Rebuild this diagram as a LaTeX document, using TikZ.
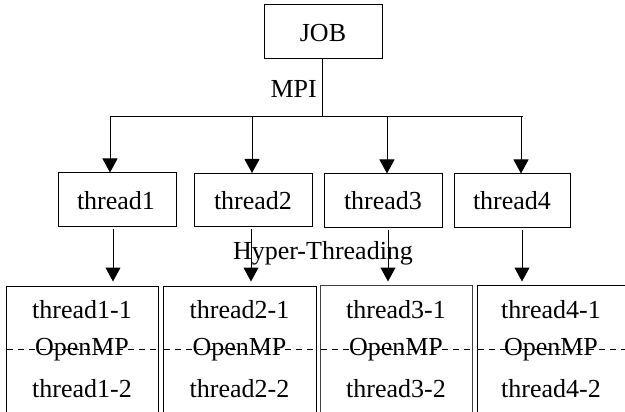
\documentclass[tikz,border=0pt]{standalone}
\usepackage{fontspec}
\setmainfont{Liberation Serif}
\usetikzlibrary{arrows.meta}
\begin{document}
\begin{tikzpicture}[x=1pt,y=-1pt,
  every node/.style={font=\fontsize{26}{30}\selectfont},
  box/.style={draw, line width=1pt, rectangle, inner sep=0pt},
  lbl/.style={inner sep=0pt, anchor=base},
  wire/.style={line width=1pt},
  arr/.style={line width=1pt, -{Triangle[width=15pt,length=14pt]}},
  sep/.style={line width=0.8pt, dash pattern=on 6pt off 5pt}]
\useasboundingbox (0,0) rectangle (625,412);
\clip (0,0) rectangle (625,412);
% top
\node[box, minimum width=118pt, minimum height=54pt] (job) at (323,32) {};
\node[lbl] (jobt) at (323,42) {JOB};
\node[lbl, anchor=base east] (mpi) at (317,98) {MPI};
% threads
\node[box, minimum width=118pt, minimum height=53pt] (t1) at (117,199.5) {};
\node[box, minimum width=118pt, minimum height=53pt] (t2) at (253,200) {};
\node[box, minimum width=118pt, minimum height=53pt] (t3) at (383,200.5) {};
\node[box, minimum width=116pt, minimum height=53pt] (t4) at (512,200.5) {};
\node[lbl] at (116,209) {thread1};
\node[lbl] at (253,209) {thread2};
\node[lbl] at (383,209) {thread3};
\node[lbl] at (512,209) {thread4};
% bus
\coordinate (b1) at (110,117);
\coordinate (b2) at (252,117);
\coordinate (b3) at (387,117);
\coordinate (b4) at (521,117);
\coordinate (bj) at (322,117);
\coordinate (be) at (523,117);
\draw[wire] (job.south -| bj) -- (bj);
\draw[wire] (b1) -- (be);
\draw[arr] (b1) -- (b1 |- t1.north);
\draw[arr] (b2) -- (b2 |- t2.north);
\draw[arr] (b3) -- (b3 |- t3.north);
\draw[arr] (b4) -- (b4 |- t4.north);
% lower boxes
\node[box, minimum width=152pt, minimum height=134pt] (l1) at (82,353) {};
\node[box, minimum width=153pt, minimum height=134pt] (l2) at (239.5,353) {};
\node[box, minimum width=152pt, minimum height=134pt, draw=black!75] (l3) at (396,352) {};
\node[box, minimum width=150pt, minimum height=134pt] (l4) at (552,352) {};
\node[lbl] (ht) at (323,259) {Hyper-Threading};
% arrows to lower boxes
\draw[arr, shorten <=2pt, shorten >=4pt] ([xshift=-4pt]t1.south) -- ([xshift=-4pt]t1.south |- l1.north);
\draw[arr, shorten <=2pt, shorten >=4pt] ([xshift=-2pt]t2.south) -- ([xshift=-2pt]t2.south |- l2.north);
\draw[arr, shorten <=2pt, shorten >=3pt] ([xshift=5pt]t3.south) -- ([xshift=5pt]t3.south |- l3.north);
\draw[arr, shorten <=2pt, shorten >=3pt] ([xshift=10pt]t4.south) -- ([xshift=10pt]t4.south |- l4.north);
% dashed separators
\foreach \n in {1,2,3,4}{
  \draw[sep] ([xshift=1pt]l\n.west |- 0,349) -- ([xshift=-1pt]l\n.east |- 0,349);
}
% texts
\node[lbl] at (82,318) {thread1-1};
\node[lbl] at (82,355) {OpenMP};
\node[lbl] at (82,397) {thread1-2};
\node[lbl] at (239.5,318) {thread2-1};
\node[lbl] at (239.5,355) {OpenMP};
\node[lbl] at (239.5,397) {thread2-2};
\node[lbl] at (396,318) {thread3-1};
\node[lbl] at (396,355) {OpenMP};
\node[lbl] at (396,397) {thread3-2};
\node[lbl] at (551,318) {thread4-1};
\node[lbl] at (551,355) {OpenMP};
\node[lbl] at (551,397) {thread4-2};
\end{tikzpicture}
\end{document}
